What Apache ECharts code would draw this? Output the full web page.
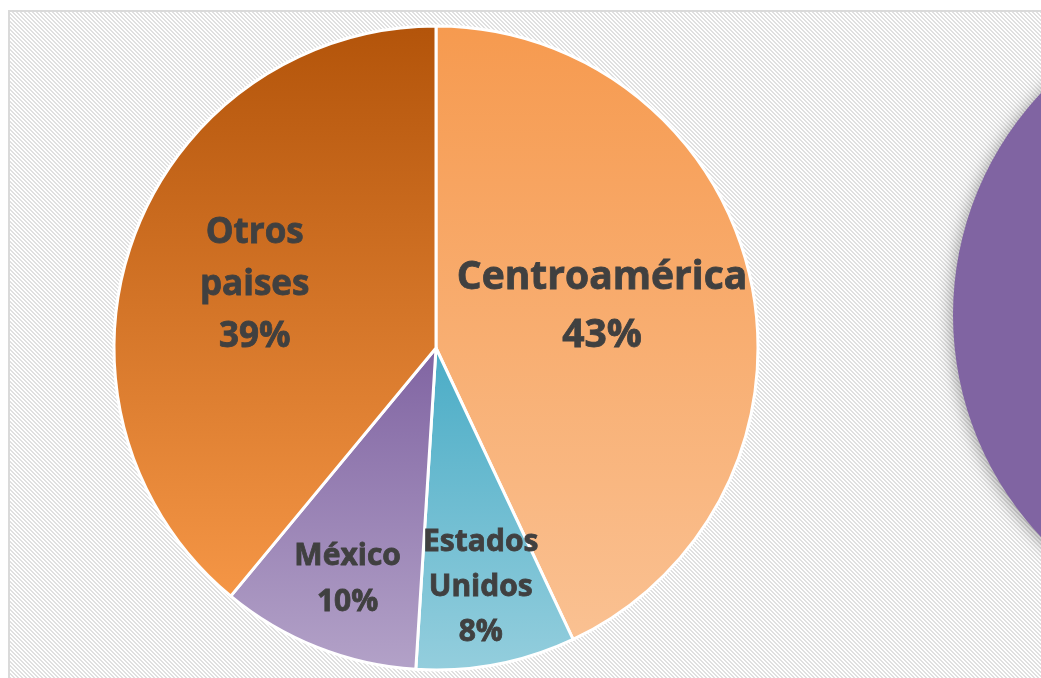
<!DOCTYPE html>
<html>
<head>
<meta charset="utf-8">
<script src="https://cdn.jsdelivr.net/npm/echarts@6/dist/echarts.min.js"></script>
<style>
  html, body { margin: 0; padding: 0; background: #fff; }
  #main { width: 1041px; height: 678px; }
</style>
</head>
<body>
<div id="main"></div>
<script>
// datos del gráfico
var regiones = ["Centroamérica", "Estados\nUnidos", "México", "Otros\npaises"];
var porcentajes = [43, 8, 10, 39];
// segundo gráfico (cortado a la derecha)
var otroGrafico = [100];

// colores degradados (arriba, abajo)
var coloresArriba = ["#F69A4F", "#4AACC6", "#8064A2", "#B3540A"];
var coloresAbajo = ["#FAC192", "#94CEDD", "#B3A2C8", "#F59646"];
// ajustes de etiquetas
var fuenteEtiq = [39, 30, 30, 35];
var alturaLinea = [58, 45, 46, 52];
var desplazEtiq = [[6, -5], [14, 78], [-28, 79], [-27, -7]];

// patrón de rayas diagonales del fondo
function crearPatron() {
  var c = document.createElement("canvas");
  c.width = 4;
  c.height = 4;
  var ctx = c.getContext("2d");
  ctx.fillStyle = "#ffffff";
  ctx.fillRect(0, 0, 4, 4);
  ctx.fillStyle = "#e0e0e0";
  for (var y = 0; y < 4; y++) {
    for (var x = 0; x < 4; x++) {
      var k = (x - y + 8) % 4;
      if (k === 0 || k === 1) ctx.fillRect(x, y, 1, 1);
    }
  }
  return c;
}

var myChart = echarts.init(document.getElementById("main"));

var datos = [];
for (var i = 0; i < regiones.length; i++) {
  datos.push({
    name: regiones[i],
    value: porcentajes[i],
    itemStyle: {
      color: new echarts.graphic.LinearGradient(0, 0, 0, 1, [
        { offset: 0, color: coloresArriba[i] },
        { offset: 1, color: coloresAbajo[i] }
      ])
    },
    label: {
      fontSize: fuenteEtiq[i],
      lineHeight: alturaLinea[i]
    }
  });
}

var option = {
  backgroundColor: "#ffffff",
  animation: false,
  graphic: [
    {
      type: "rect",
      z: -10,
      shape: { x: 9, y: 11, width: 1100, height: 700 },
      style: {
        fill: { image: crearPatron(), repeat: "repeat" },
        stroke: "#dadada",
        lineWidth: 2
      }
    }
  ],
  series: [
    {
      type: "pie",
      center: [436, 348],
      radius: 322,
      startAngle: 90,
      clockwise: true,
      silent: true,
      itemStyle: {
        borderColor: "#ffffff",
        borderWidth: 3
      },
      label: {
        show: true,
        position: "inside",
        formatter: "{b}\n{c}%",
        color: "#404040",
        fontFamily: "Open Sans",
        fontWeight: "bold",
        textBorderColor: "#404040",
        textBorderWidth: 0.8,
        align: "center"
      },
      labelLine: { show: false },
      labelLayout: function (params) {
        var d = desplazEtiq[params.dataIndex];
        return { dx: d[0], dy: d[1] };
      },
      data: datos
    },
    {
      type: "pie",
      center: [1277, 315],
      radius: 324,
      silent: true,
      label: { show: false },
      labelLine: { show: false },
      itemStyle: {
        color: "#8064A2",
        shadowBlur: 16,
        shadowColor: "rgba(0,0,0,0.35)",
        shadowOffsetX: -2,
        shadowOffsetY: 2
      },
      data: otroGrafico
    }
  ]
};

myChart.setOption(option);
</script>
</body>
</html>
